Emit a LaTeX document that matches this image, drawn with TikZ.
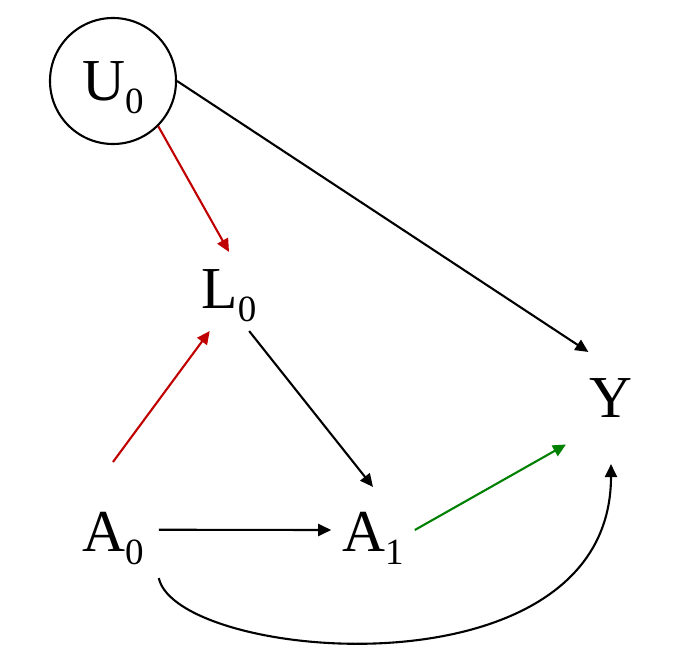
\documentclass[tikz,border=0pt]{standalone}
\usepackage{fontspec}
\setmainfont{Liberation Serif}
\usepackage{tikz}
\usetikzlibrary{arrows.meta}
\definecolor{darkred}{RGB}{192,0,0}
\definecolor{darkgreen}{RGB}{0,128,0}
\newcommand{\subs}[1]{\raisebox{-13.5pt}{\fontsize{37}{37}\selectfont #1}}
\tikzstyle{v}=[inner sep=0pt, font=\fontsize{59.5}{60}\selectfont]
\tikzstyle{u}=[v, draw, circle, minimum size=126pt]

\begin{document}
\begin{tikzpicture}[x=1pt, y=-1pt, line width=2.1pt, >={Triangle[length=13pt, width=12pt]}]
	\useasboundingbox (0,0) rectangle (692,669);
	\node[u, text depth=0pt] (U0) at (113, 81) {U\subs{0}};
	\node[v, text height=55pt, text depth=22pt] (L0) at (229, 291.5) {L\subs{0}};
	\node[v, inner xsep=14pt, text height=88pt, text depth=26pt] (A0) at (113, 520) {A\subs{0}};
	\node[v, inner xsep=10pt, text height=63pt, text depth=21pt] (A1) at (373, 530) {A\subs{1}};
	\node[v, inner xsep=22.5pt, text height=64pt, text depth=46pt] (Y) at (611, 408) {Y};
	\draw (U0.south east) edge[->, darkred] (L0.north);
	\draw (U0.east) edge[->] (Y.112);
	\draw (A0.north) edge[->, darkred] (L0.244);
	\draw (L0.-63) edge[->] (A1.north);
	\draw (A0.-12) edge[->] (A1.west);
	\draw (A1.east) edge[->, darkgreen] (Y.219);
	\draw[->] (A0.south east) .. controls +(18,83) and +(0,237) .. (Y.south);
\end{tikzpicture}
\end{document}
